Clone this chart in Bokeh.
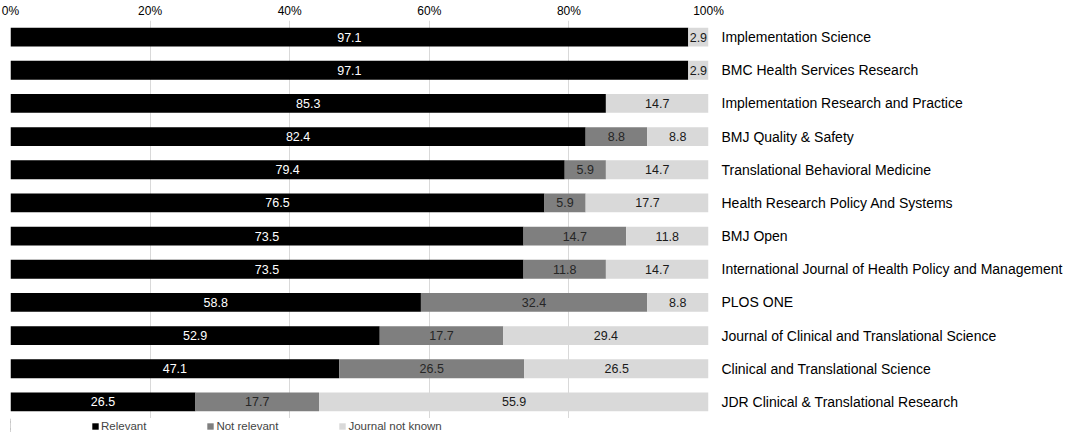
import pandas as pd
from bokeh.plotting import figure
from bokeh.layouts import column
from bokeh.models import (ColumnDataSource, FactorRange, Range1d, FixedTicker,
                          PrintfTickFormatter, Legend, LegendItem)
from bokeh.core.properties import value
from bokeh.embed import file_html
from bokeh.resources import INLINE

journals = [
    "Implementation Science",
    "BMC Health Services Research",
    "Implementation Research and Practice",
    "BMJ Quality & Safety",
    "Translational Behavioral Medicine",
    "Health Research Policy And Systems",
    "BMJ Open",
    "International Journal of Health Policy and Management",
    "PLOS ONE",
    "Journal of Clinical and Translational Science",
    "Clinical and Translational Science",
    "JDR Clinical & Translational Research",
]
relevant = [97.1, 97.1, 85.3, 82.4, 79.4, 76.5, 73.5, 73.5, 58.8, 52.9, 47.1, 26.5]
not_relevant = [0, 0, 0, 8.8, 5.9, 5.9, 14.7, 11.8, 32.4, 17.7, 26.5, 17.7]
not_known = [2.9, 2.9, 14.7, 8.8, 14.7, 17.7, 11.8, 14.7, 8.8, 29.4, 26.5, 55.9]
series_names = ["Relevant", "Not relevant", "Journal not known"]
tick_values = [0, 20, 40, 60, 80, 100]

FONT = "Liberation Sans"
colors = ["#000000", "#7f7f7f", "#d9d9d9"]
text_colors = ["#ffffff", "#262626", "#1a1a1a"]

df = pd.DataFrame({"journal": journals, "rel": relevant,
                   "notrel": not_relevant, "unk": not_known})
source = ColumnDataSource(df)
cols = ["rel", "notrel", "unk"]

p = figure(y_range=FactorRange(*reversed(journals)), x_range=Range1d(0, 100),
           frame_width=698, frame_height=398,
           x_axis_location="above", y_axis_location="right",
           output_backend="svg", toolbar_location=None,
           min_border_left=10, min_border_top=0, min_border_bottom=0,
           min_border_right=5)

p.hbar_stack(cols, y="journal", height=0.57,
             color=colors, line_color=None, source=source)

# segment labels
for i, c in enumerate(cols):
    left = df[cols[:i]].sum(axis=1) if i > 0 else 0
    centers = left + df[c] / 2
    sub = pd.DataFrame({"journal": df["journal"], "x": centers,
                        "t": df[c].map(lambda v: f"{v:.1f}")})
    sub = sub[df[c] > 0]
    p.text(x="x", y="journal", text="t", source=ColumnDataSource(sub),
           text_align="center", text_baseline="middle",
           text_font=value(FONT), text_font_size="12.5px",
           text_color=text_colors[i])

# axes
p.xaxis.ticker = FixedTicker(ticks=tick_values)
p.xaxis.formatter = PrintfTickFormatter(format="%d%%")
p.xaxis.axis_line_color = None
p.xaxis.major_tick_line_color = None
p.xaxis.minor_tick_line_color = None
p.xaxis.major_tick_out = 0
p.xaxis.major_tick_in = 0
p.xaxis.major_label_standoff = 3
p.xaxis.major_label_text_font = FONT
p.xaxis.major_label_text_font_size = "12px"
p.xaxis.major_label_text_color = "#000000"

p.yaxis.axis_line_color = None
p.yaxis.major_tick_line_color = None
p.yaxis.minor_tick_line_color = None
p.yaxis.major_tick_out = 0
p.yaxis.major_tick_in = 0
p.yaxis.major_label_standoff = 13
p.yaxis.major_label_text_font = FONT
p.yaxis.major_label_text_font_size = "14px"
p.yaxis.major_label_text_color = "#000000"

p.xgrid.grid_line_color = "#d9d9d9"
p.xgrid.ticker = FixedTicker(ticks=tick_values)
p.ygrid.grid_line_color = None
p.outline_line_color = None

# legend strip: a second figure whose view excludes the bars, holding only the legend
lg = figure(width=1068, height=14, y_range=FactorRange(*reversed(journals)),
            x_range=Range1d(1000, 1001), x_axis_location=None,
            y_axis_location=None, output_backend="svg", toolbar_location=None,
            min_border_left=0, min_border_right=0, min_border_top=0,
            min_border_bottom=0)
lg.grid.visible = False
lg.outline_line_color = None
leg_renderers = lg.hbar_stack(cols, y="journal", height=0.57,
                              color=colors, line_color=None, source=source)

legend = Legend(items=[LegendItem(label=n, renderers=[r])
                       for n, r in zip(series_names, leg_renderers)],
                orientation="horizontal", location=(81, 0),
                label_text_font=FONT, label_text_font_size="11.5px",
                glyph_width=8, glyph_height=8, label_height=12,
                label_standoff=2, spacing=60, padding=1, margin=0,
                border_line_color=None, background_fill_alpha=0)
lg.add_layout(legend, "center")

layout = column(p, lg)
open("out.html", "w").write(file_html(layout, INLINE))
